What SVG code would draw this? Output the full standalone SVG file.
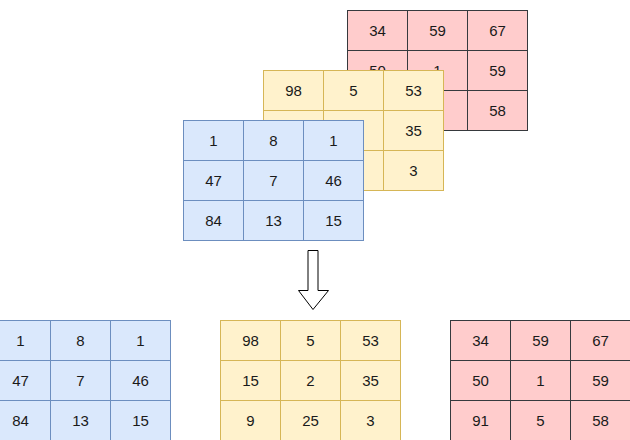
<svg xmlns="http://www.w3.org/2000/svg" width="630" height="440" viewBox="0 0 630 440">
<style>
.b rect{fill:#dae8fc;stroke:#6c8ebf;stroke-width:1}
.y rect{fill:#fff2cc;stroke:#d6b656;stroke-width:1}
.r rect{fill:#ffcccc;stroke:#36393d;stroke-width:1}
text{font-family:"Liberation Sans",Arial,sans-serif;font-size:15px;fill:#1a1a1a;text-anchor:middle;dominant-baseline:central}
</style>
<rect width="630" height="440" fill="#ffffff"/>
<g id="red-top" class="r" transform="translate(347.5,10.5)">
<rect x="0" y="0" width="60" height="40"/><rect x="60" y="0" width="60" height="40"/><rect x="120" y="0" width="60" height="40"/>
<rect x="0" y="40" width="60" height="40"/><rect x="60" y="40" width="60" height="40"/><rect x="120" y="40" width="60" height="40"/>
<rect x="0" y="80" width="60" height="40"/><rect x="60" y="80" width="60" height="40"/><rect x="120" y="80" width="60" height="40"/>
<text x="30" y="20">34</text><text x="90" y="20">59</text><text x="150" y="20">67</text>
<text x="30" y="60">50</text><text x="90" y="60">1</text><text x="150" y="60">59</text>
<text x="30" y="100">91</text><text x="90" y="100">5</text><text x="150" y="100">58</text>
</g>
<g id="yellow-top" class="y" transform="translate(263.5,70.5)">
<rect x="0" y="0" width="60" height="40"/><rect x="60" y="0" width="60" height="40"/><rect x="120" y="0" width="60" height="40"/>
<rect x="0" y="40" width="60" height="40"/><rect x="60" y="40" width="60" height="40"/><rect x="120" y="40" width="60" height="40"/>
<rect x="0" y="80" width="60" height="40"/><rect x="60" y="80" width="60" height="40"/><rect x="120" y="80" width="60" height="40"/>
<text x="30" y="20">98</text><text x="90" y="20">5</text><text x="150" y="20">53</text>
<text x="30" y="60">15</text><text x="90" y="60">2</text><text x="150" y="60">35</text>
<text x="30" y="100">9</text><text x="90" y="100">25</text><text x="150" y="100">3</text>
</g>
<g id="blue-top" class="b" transform="translate(183.5,120.5)">
<rect x="0" y="0" width="60" height="40"/><rect x="60" y="0" width="60" height="40"/><rect x="120" y="0" width="60" height="40"/>
<rect x="0" y="40" width="60" height="40"/><rect x="60" y="40" width="60" height="40"/><rect x="120" y="40" width="60" height="40"/>
<rect x="0" y="80" width="60" height="40"/><rect x="60" y="80" width="60" height="40"/><rect x="120" y="80" width="60" height="40"/>
<text x="30" y="20">1</text><text x="90" y="20">8</text><text x="150" y="20">1</text>
<text x="30" y="60">47</text><text x="90" y="60">7</text><text x="150" y="60">46</text>
<text x="30" y="100">84</text><text x="90" y="100">13</text><text x="150" y="100">15</text>
</g>
<g id="connectors">
<path d="M308,250.5 H318 V290.5 H328.5 L313,309.5 L298.5,290.5 H308 Z" fill="#ffffff" stroke="#000000" stroke-width="1"/>
</g>
<g id="blue-bottom" class="b" transform="translate(-9.5,320.5)">
<rect x="0" y="0" width="60" height="40"/><rect x="60" y="0" width="60" height="40"/><rect x="120" y="0" width="60" height="40"/>
<rect x="0" y="40" width="60" height="40"/><rect x="60" y="40" width="60" height="40"/><rect x="120" y="40" width="60" height="40"/>
<rect x="0" y="80" width="60" height="40"/><rect x="60" y="80" width="60" height="40"/><rect x="120" y="80" width="60" height="40"/>
<text x="30" y="20">1</text><text x="90" y="20">8</text><text x="150" y="20">1</text>
<text x="30" y="60">47</text><text x="90" y="60">7</text><text x="150" y="60">46</text>
<text x="30" y="100">84</text><text x="90" y="100">13</text><text x="150" y="100">15</text>
</g>
<g id="yellow-bottom" class="y" transform="translate(220.5,320.5)">
<rect x="0" y="0" width="60" height="40"/><rect x="60" y="0" width="60" height="40"/><rect x="120" y="0" width="60" height="40"/>
<rect x="0" y="40" width="60" height="40"/><rect x="60" y="40" width="60" height="40"/><rect x="120" y="40" width="60" height="40"/>
<rect x="0" y="80" width="60" height="40"/><rect x="60" y="80" width="60" height="40"/><rect x="120" y="80" width="60" height="40"/>
<text x="30" y="20">98</text><text x="90" y="20">5</text><text x="150" y="20">53</text>
<text x="30" y="60">15</text><text x="90" y="60">2</text><text x="150" y="60">35</text>
<text x="30" y="100">9</text><text x="90" y="100">25</text><text x="150" y="100">3</text>
</g>
<g id="red-bottom" class="r" transform="translate(450.5,320.5)">
<rect x="0" y="0" width="60" height="40"/><rect x="60" y="0" width="60" height="40"/><rect x="120" y="0" width="60" height="40"/>
<rect x="0" y="40" width="60" height="40"/><rect x="60" y="40" width="60" height="40"/><rect x="120" y="40" width="60" height="40"/>
<rect x="0" y="80" width="60" height="40"/><rect x="60" y="80" width="60" height="40"/><rect x="120" y="80" width="60" height="40"/>
<text x="30" y="20">34</text><text x="90" y="20">59</text><text x="150" y="20">67</text>
<text x="30" y="60">50</text><text x="90" y="60">1</text><text x="150" y="60">59</text>
<text x="30" y="100">91</text><text x="90" y="100">5</text><text x="150" y="100">58</text>
</g>
</svg>
